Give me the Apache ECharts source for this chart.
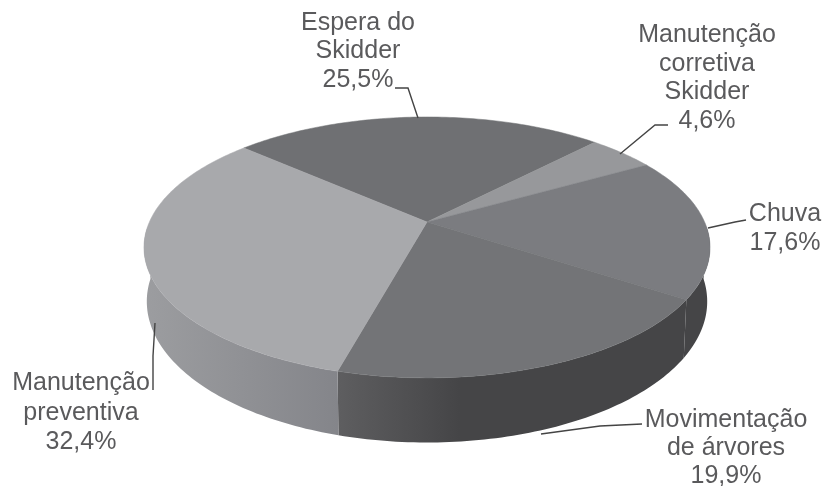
<!DOCTYPE html>
<html>
<head>
<meta charset="utf-8">
<style>html,body{margin:0;background:#fff}#chart{width:823px;height:486px}</style>
<script src="https://cdn.jsdelivr.net/npm/echarts@6/dist/echarts.min.js"></script>
</head>
<body>
<div id="chart"></div>
<script>
// Time shares per cause, clockwise from the upper left edge of the disc
const categories = ['Espera do\nSkidder', 'Manutenção\ncorretiva\nSkidder', 'Chuva', 'Movimentação\nde árvores', 'Manutenção\npreventiva'];
const shares = [25.5, 4.6, 17.6, 19.9, 32.4];
const topColors = ['#6f7073', '#97989b', '#7b7c80', '#737477', '#a8a9ac'];
const wallStops = [null, null, ['#454547', '#454547'], ['#5e5e60', '#454547'], ['#84858a', '#9c9da0']];

// Projected disc: a circle in a plane seen with perspective
const disc = { cx: 427, cy: 222, a: 277.6, b: 125.5, k: 0.195, depth: 52, taper: 0.99, startDeg: -48.2 };
const font = '25px "Liberation Sans", Arial, sans-serif';

// Text anchors and leader paths for each label
const labelLayout = [
  { x: 358, y: 51.5, lineH: 28.7, path: [[395, 88], [408, 88], [418, 118]] },
  { x: 707, y: 78, lineH: 28.5, path: [[668, 125], [655, 125], [620, 154]] },
  { x: 785, y: 229, lineH: 29, path: [[746, 220], [735, 222], [708, 228]] },
  { x: 726, y: 448, lineH: 28, path: [[642, 424], [600, 426], [541, 434]] },
  { x: 81, y: 413, lineH: 29.5, path: [[153, 390], [153, 356], [155, 323]] }
];

const total = shares.reduce((s, v) => s + v, 0);
const startOf = i => disc.startDeg + shares.slice(0, i).reduce((s, v) => s + v, 0) / total * 360;

function project(deg, r, lowered) {
  const t = deg * Math.PI / 180;
  const u = r * Math.sin(t), v = -r * Math.cos(t);
  const w = 1 - disc.k * v;
  let x = disc.a * u / w;
  const y = disc.b * v / w + (lowered ? disc.depth / w : 0);
  if (lowered) x *= disc.taper;
  return [disc.cx + x, disc.cy + y];
}

function rimPoints(from, to, lowered) {
  const pts = [];
  const steps = Math.max(2, Math.ceil(Math.abs(to - from)));
  for (let i = 0; i <= steps; i++) pts.push(project(from + (to - from) * i / steps, 1, lowered));
  return pts;
}

function renderWall(params, api) {
  const i = params.dataIndex;
  const stops = wallStops[i];
  if (!stops) return { type: 'group', children: [] };
  const from = Math.max(startOf(i), 92);
  const to = Math.min(startOf(i) + api.value(0) / total * 360, 268);
  const top = rimPoints(from, to, false);
  const bottom = rimPoints(to, from, true);
  const xs = top.concat(bottom).map(p => p[0]);
  return {
    type: 'polygon',
    shape: { points: top.concat(bottom) },
    style: {
      fill: {
        type: 'linear', global: true,
        x: Math.min(...xs), y: 0, x2: Math.max(...xs), y2: 0,
        colorStops: i === 3
          ? [{ offset: 0, color: stops[0] }, { offset: 0.35, color: stops[1] }, { offset: 1, color: stops[1] }]
          : [{ offset: 0, color: stops[1] }, { offset: 1, color: stops[0] }]
      }
    }
  };
}

function renderTop(params, api) {
  const i = params.dataIndex;
  const from = startOf(i);
  const to = from + api.value(0) / total * 360;
  return {
    type: 'polygon',
    shape: { points: [[disc.cx, disc.cy]].concat(rimPoints(from, to, false)) },
    style: { fill: topColors[i], stroke: topColors[i], lineWidth: 0.5 }
  };
}

function renderLabel(params, api) {
  const i = params.dataIndex;
  const layout = labelLayout[i];
  const value = api.value(0).toFixed(1).replace('.', ',') + '%';
  return {
    type: 'group',
    children: [
      { type: 'polyline', shape: { points: layout.path }, style: { fill: null, stroke: '#444', lineWidth: 1.4 } },
      {
        type: 'text',
        style: {
          x: layout.x, y: layout.y,
          text: categories[i] + '\n' + value,
          font: font, fill: '#5a5a5c', align: 'center', verticalAlign: 'middle',
          lineHeight: layout.lineH
        }
      }
    ]
  };
}

// Walls first so the disc top covers their upper edge, labels last
const chart = echarts.init(document.getElementById('chart'), null, { renderer: 'canvas' });
chart.setOption({
  animation: false,
  backgroundColor: '#ffffff',
  series: [
    { type: 'custom', coordinateSystem: 'none', z: 1, renderItem: renderWall, data: shares.map(v => [v]) },
    { type: 'custom', coordinateSystem: 'none', z: 2, renderItem: renderTop, data: shares.map(v => [v]) },
    { type: 'custom', coordinateSystem: 'none', z: 3, renderItem: renderLabel, data: shares.map(v => [v]) }
  ]
});
</script>
</body>
</html>
